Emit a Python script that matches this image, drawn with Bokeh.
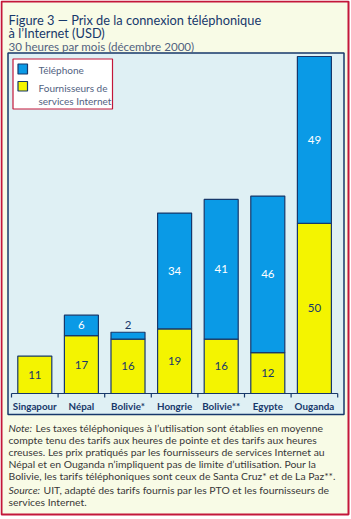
from bokeh.plotting import figure
from bokeh.models import Range1d
from bokeh.core.properties import value
from bokeh.embed import file_html
from bokeh.resources import INLINE

# ---- data ----
categories = ["Singapour", "Népal", "Bolivie*", "Hongrie", "Bolivie**", "Egypte", "Ouganda"]
isp = [11, 17, 16, 19, 16, 12, 50]          # Fournisseurs de services Internet
phone = [0, 6, 2, 34, 41, 46, 49]           # Téléphone

title1 = "Figure 3 — Prix de la connexion téléphonique"
title2 = "à l’Internet (USD)"
subtitle = "30 heures par mois (décembre 2000)"
legend_labels = ["Téléphone", "Fournisseurs de", "services Internet"]
note_lines = [
    "Les taxes téléphoniques à l’utilisation sont établies en moyenne",
    "compte tenu des tarifs aux heures de pointe et des tarifs aux heures",
    "creuses. Les prix pratiqués par les fournisseurs de services Internet au",
    "Népal et en Ouganda n’impliquent pas de limite d’utilisation. Pour la",
    "Bolivie, les tarifs téléphoniques sont ceux de Santa Cruz* et de La Paz**.",
]
source_lines = [
    "UIT, adapté des tarifs fournis par les PTO et les fournisseurs de",
    "services Internet.",
]

# ---- style ----
W, H = 351, 519
FONT = "Lato"
NAVY = "#17386b"
BLUE = "#0a9ae6"
YELLOW = "#f4f400"
CREAM = "#f8fbe6"
PANEL = "#dff0f4"
RED = "#c3173a"
GREYBLUE = "#52627f"
TEXT = "#383838"

p = figure(width=W, height=H, output_backend="svg", toolbar_location=None,
           x_range=Range1d(0, W), y_range=Range1d(H, 0),
           x_axis_location=None, y_axis_location=None,
           min_border=0, outline_line_color=None,
           background_fill_color="white", border_fill_color="white")
p.grid.visible = False

# value scales (bars drawn through these ranges)
base_px, px_per_unit = 393.0, 3.404
c0, pitch = 34.3, 46.6
p.extra_y_ranges = {"vy": Range1d(-(H - base_px) / px_per_unit, base_px / px_per_unit)}
p.extra_x_ranges = {"cx": Range1d(-c0 / pitch, (W - c0) / pitch)}
R = dict(x_range_name="cx", y_range_name="vy")

# frame decorations
p.quad(left=[1], right=[348], top=[1], bottom=[514], fill_color=CREAM,
       line_color=RED, line_width=2)
p.quad(left=[7.5], right=[343.5], top=[52.5], bottom=[414], fill_color=PANEL,
       line_color=NAVY, line_width=1.5)

# titles
p.text(x=[8], y=[19], text=[title1], text_font=value(FONT), text_font_size="12.8px",
       text_color=NAVY, text_baseline="alphabetic")
p.text(x=[8], y=[32.5], text=[title2], text_font=value(FONT), text_font_size="12.8px",
       text_color=NAVY, text_baseline="alphabetic")
p.text(x=[8], y=[45.5], text=[subtitle], text_font=value(FONT), text_font_size="11.6px",
       text_color=GREYBLUE, text_baseline="alphabetic")

# bars
idx = list(range(len(categories)))
tops = [a + b for a, b in zip(isp, phone)]
p.vbar(x=idx, bottom=0, top=isp, width=0.73, fill_color=YELLOW, line_color=NAVY,
       line_width=1.2, **R)
pi = [i for i in idx if phone[i] > 0]
p.vbar(x=pi, bottom=[isp[i] for i in pi], top=[tops[i] for i in pi], width=0.73,
       fill_color=BLUE, line_color=NAVY, line_width=1.2, **R)

# axis line + ticks
p.segment(x0=[-0.5], x1=[len(categories) - 0.5], y0=[0], y1=[0], line_color=NAVY,
          line_width=1.2, **R)
tk = [i - 0.5 for i in range(len(categories) + 1)]
p.segment(x0=tk, x1=tk, y0=[0] * len(tk), y1=[-4 / px_per_unit] * len(tk),
          line_color=NAVY, line_width=1.2, **R)
p.text(x=idx, y=[-12 / px_per_unit] * len(idx), text=categories, text_font=value(FONT),
       text_font_size="9.8px", text_font_style="bold", text_color=NAVY,
       text_align="center", text_baseline="middle", **R)

# value labels
p.text(x=idx, y=[v / 2 for v in isp], text=[str(v) for v in isp], text_font=value(FONT),
       text_font_size="11.5px", text_color=NAVY, text_align="center",
       text_baseline="middle", **R)
inside = [i for i in pi if phone[i] >= 5]
above = [i for i in pi if phone[i] < 5]
p.text(x=inside, y=[isp[i] + phone[i] / 2 for i in inside],
       text=[str(phone[i]) for i in inside], text_font=value(FONT),
       text_font_size="11.5px", text_color="white", text_align="center",
       text_baseline="middle", **R)
p.text(x=above, y=[tops[i] + 7 / px_per_unit for i in above],
       text=[str(phone[i]) for i in above], text_font=value(FONT),
       text_font_size="11.5px", text_color=NAVY, text_align="center",
       text_baseline="middle", **R)

# legend
p.quad(left=[12.5], right=[112], top=[58.5], bottom=[108.5], fill_color="white",
       line_color=RED, line_width=1.2)
p.quad(left=[17.5], right=[27], top=[63.5], bottom=[73.5], fill_color=BLUE,
       line_color=NAVY, line_width=1.2)
p.quad(left=[17.5], right=[27], top=[81], bottom=[90.5], fill_color=YELLOW,
       line_color=NAVY, line_width=1.2)
p.text(x=[38, 38, 38], y=[69, 87.5, 100], text=legend_labels, text_font=value(FONT),
       text_font_size="10px", text_color=GREYBLUE, text_baseline="middle")

# notes
NFS = "10.4px"
ny0, nstep = 427.5, 12.1
p.text(x=[8], y=[ny0], text=["Note:"], text_font=value(FONT), text_font_size=NFS,
       text_font_style="italic", text_color=TEXT, text_baseline="middle")
for k, line in enumerate(note_lines):
    p.text(x=[35 if k == 0 else 8], y=[ny0 + k * nstep], text=[line],
           text_font=value(FONT), text_font_size=NFS, text_color=TEXT,
           text_baseline="middle")
sy0 = 489.5
p.text(x=[8], y=[sy0], text=["Source:"], text_font=value(FONT), text_font_size=NFS,
       text_font_style="italic", text_color=TEXT, text_baseline="middle")
for k, line in enumerate(source_lines):
    p.text(x=[43 if k == 0 else 8], y=[sy0 + k * nstep], text=[line],
           text_font=value(FONT), text_font_size=NFS, text_color=TEXT,
           text_baseline="middle")

open("out.html", "w").write(file_html(p, INLINE))
